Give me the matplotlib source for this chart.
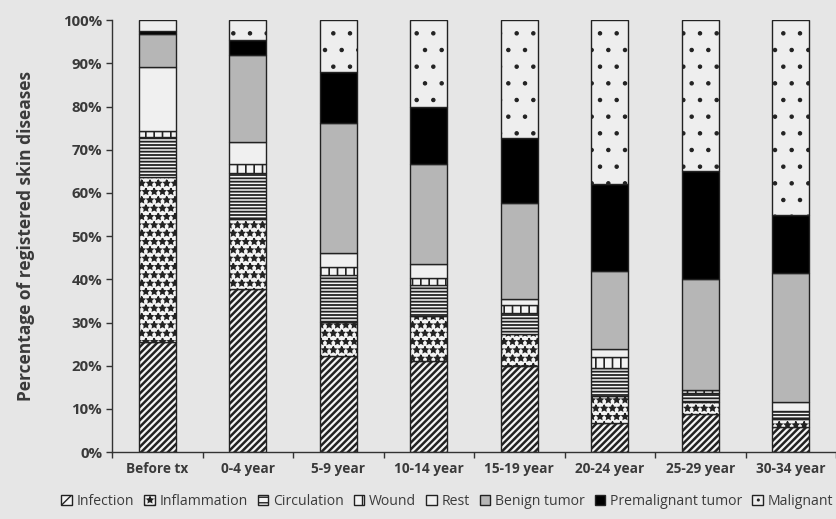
import matplotlib
matplotlib.use("Agg")
import matplotlib.pyplot as plt
import matplotlib.patches as mpatches
from matplotlib.ticker import FixedLocator, FuncFormatter
import numpy as np

plt.rcParams['font.family'] = ['Open Sans', 'DejaVu Sans']

# Share of registered skin diseases per period (percent)
categories = ['Before tx', '0-4 year', '5-9 year', '10-14 year',
              '15-19 year', '20-24 year', '25-29 year', '30-34 year']
infection = [25.6, 37.8, 22.2, 21.2, 19.9, 6.8, 8.9, 5.9]
inflammation = [38.0, 16.2, 7.9, 10.4, 7.5, 6.2, 2.6, 1.7]
circulation = [9.4, 10.7, 10.8, 7.0, 4.8, 6.4, 2.2, 2.0]
wound = [1.4, 2.1, 1.9, 1.7, 1.8, 2.7, 0.6, 0.0]
rest = [14.7, 5.0, 3.3, 3.3, 1.5, 1.7, 0.0, 1.9]
benign = [7.6, 20.1, 30.0, 23.1, 22.2, 18.2, 25.8, 29.9]
premalignant = [0.8, 3.6, 11.9, 13.1, 15.1, 20.0, 25.0, 13.5]
malignant = [2.5, 4.5, 12.0, 20.2, 27.2, 38.0, 34.9, 45.1]

series_names = ['Infection', 'Inflammation', 'Circulation', 'Wound', 'Rest',
                'Benign tumor', 'Premalignant tumor', 'Malignant']
series = [infection, inflammation, circulation, wound, rest,
          benign, premalignant, malignant]

# fill colour, bar hatch, legend hatch, hatch line width for each series
styles = [
    ('#f4f4f4', '/////', '///', 1.8),
    ('#f4f4f4', '**', '**', 1.1),
    ('#f4f4f4', '-----', '---', 1.3),
    ('#f4f4f4', '||', '||', 1.2),
    ('#f0f0f0', '', '', 1.0),
    ('#b6b6b6', '', '', 1.0),
    ('#000000', '', '', 1.0),
    ('#eeeeee', '.', '..', 0.8),
]

bg = '#e6e6e6'
text_col = '#3a3a3a'

fig = plt.figure(figsize=(8.36, 5.19), dpi=100, facecolor=bg)
ax = fig.add_axes([0.134, 0.129, 0.866, 0.832], facecolor=bg)

x = np.arange(len(categories))
bottom = np.zeros(len(categories))
handles = []
for name, vals, (fc, hatch, leg_hatch, hlw) in zip(series_names, series, styles):
    vals = np.array(vals)
    with plt.rc_context({'hatch.linewidth': hlw, 'hatch.color': 'black'}):
        bars = ax.bar(x, vals, width=0.41, bottom=bottom, color=fc,
                      edgecolor='#222222', linewidth=1.0, hatch=hatch or None)
        for b in bars:
            if hasattr(b, 'set_hatch_linewidth'):
                b.set_hatch_linewidth(hlw)
        h = mpatches.Patch(facecolor=fc, edgecolor='#222222', linewidth=1.0,
                           hatch=(leg_hatch or None), label=name)
        if hasattr(h, 'set_hatch_linewidth'):
            h.set_hatch_linewidth(min(hlw, 1.2))
    handles.append(h)
    bottom += vals

ax.set_xlim(-0.5, len(categories) - 0.5)
ax.set_ylim(0, 100)
ax.spines['top'].set_visible(False)
ax.spines['right'].set_visible(False)
for s in ('left', 'bottom'):
    ax.spines[s].set_color('#333333')
    ax.spines[s].set_linewidth(1.0)

ax.set_yticks(np.arange(0, 101, 10))
ax.yaxis.set_major_formatter(FuncFormatter(lambda v, p: f'{int(v)}%'))
ax.tick_params(axis='y', direction='out', length=4, width=1.0, color='#333333',
               labelsize=10.8, labelcolor=text_col, pad=3)

ax.set_xticks(x)
ax.set_xticklabels(categories)
ax.tick_params(axis='x', which='major', length=0, labelsize=9.8,
               labelcolor=text_col, pad=7)
ax.xaxis.set_minor_locator(FixedLocator(np.arange(-0.5, len(categories), 1.0)))
ax.tick_params(axis='x', which='minor', direction='out', length=4, width=1.0,
               color='#333333')
for lab in ax.get_xticklabels() + ax.get_yticklabels():
    lab.set_fontweight('bold')

ax.set_ylabel('Percentage of registered skin diseases', fontsize=12.5,
              fontweight='bold', color=text_col, labelpad=20)

fig.legend(handles=handles, loc='lower center', bbox_to_anchor=(0.535, -0.005),
           ncol=8, frameon=False, fontsize=10.1, handlelength=0.75,
           handleheight=0.75, handletextpad=0.35, columnspacing=0.7,
           labelcolor=text_col)

fig.savefig('out.png', dpi=100, facecolor=bg)
